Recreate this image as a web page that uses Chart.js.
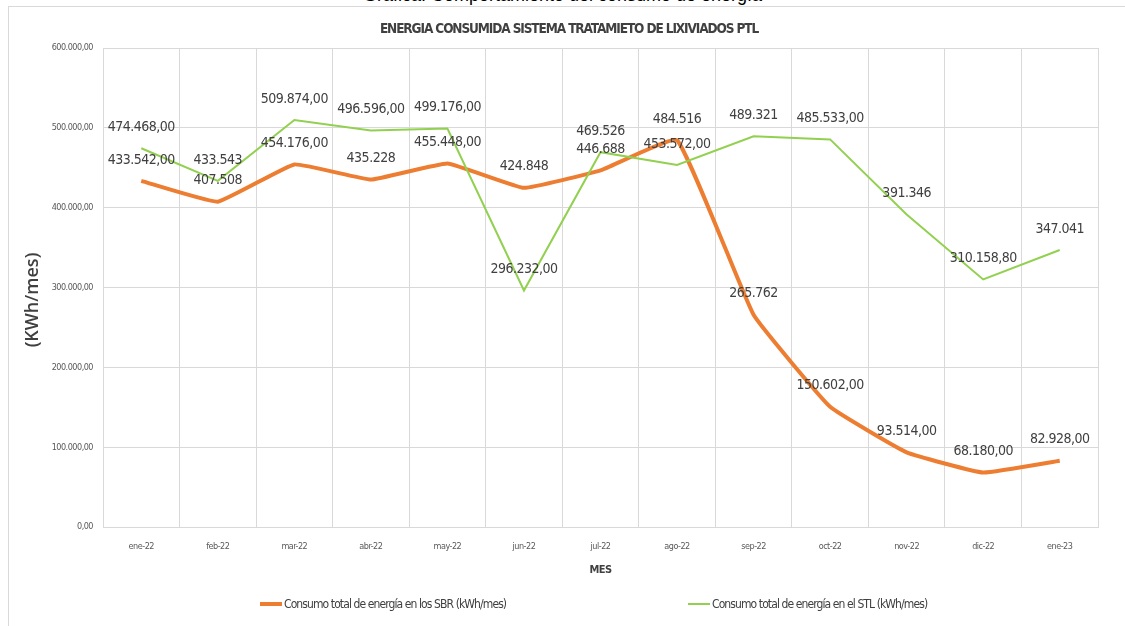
<!DOCTYPE html>
<html>
<head>
<meta charset="utf-8">
<script src="https://cdn.jsdelivr.net/npm/chart.js@4/dist/chart.umd.min.js"></script>
<style>
   body { margin: 0; background: #fff; }
   #wrap { position: relative; width: 1125px; height: 626px; overflow: hidden; }
   #frame { position: absolute; left: 8px; top: 6px; width: 1120px; height: 640px;
            border-top: 1px solid #d9d9d9; border-left: 1px solid #d9d9d9; }
   #topText { position: absolute; top: -15px; left: 0; width: 1125px; text-align: center;
              font: 18px "Liberation Sans", Arial, sans-serif; color: #000; line-height: 20px; }
   #topText span { background: #fff; padding: 0 4px; }
   #chartBox { position: absolute; left: 0; top: 0; width: 1125px; height: 626px; }
   .leg { position: absolute; top: 596px; font: 12px "DejaVu Sans Condensed", sans-serif;
          letter-spacing: -0.9px; color: #404040; white-space: nowrap; line-height: 16px; }
   .leg i { display: inline-block; width: 22px; vertical-align: middle; margin-right: 2px; margin-top: -2px; }
</style>
</head>
<body>
<div id="wrap">
   <div id="frame"></div>
   <div id="chartBox"><canvas id="energyChart"></canvas></div>
   <div id="topText"><span>Gráfica: Comportamiento del consumo de energía</span></div>
   <div class="leg" style="left:260px"><i style="border-top:4px solid #ED7D31"></i>Consumo total de energía en los SBR (kWh/mes)</div>
   <div class="leg" style="left:688px"><i style="border-top:2px solid #92D050"></i>Consumo total de energía en el STL (kWh/mes)</div>
</div>
<script>
// Data
const months = ["ene-22", "feb-22", "mar-22", "abr-22", "may-22", "jun-22", "jul-22",
                "ago-22", "sep-22", "oct-22", "nov-22", "dic-22", "ene-23"];

const sbrValues = [433542, 407508, 454176, 435228, 455448, 424848, 446688,
                   484516, 265762, 150602, 93514, 68180, 82928];
// whether the data label shows ",00" decimals
const sbrDecimals = [true, false, true, false, true, false, false,
                     false, false, true, true, true, true];

const stlValues = [474468, 433543, 509874, 496596, 499176, 296232, 469526,
                   453572, 489321, 485533, 391346, 310158.8, 347041];
const stlDecimals = [true, false, true, true, true, true, false,
                     true, false, true, false, true, false];

const yTicks = [0, 100000, 200000, 300000, 400000, 500000, 600000];

const chartTitle = "ENERGIA CONSUMIDA SISTEMA TRATAMIETO DE LIXIVIADOS PTL";
const yTitle = "(KWh/mes)";

const narrow = "'DejaVu Sans Condensed', sans-serif";
const textColor = "#595959";
const gridColor = "#d9d9d9";

// 433542 -> "433.542" / "433.542,00"
function fmt(v, dec) {
   const neg = v < 0;
   v = Math.abs(v);
   let intPart = Math.floor(v);
   let frac = Math.round((v - intPart) * 100);
   let s = String(intPart).replace(/\B(?=(\d{3})+(?!\d))/g, ".");
   if (dec) s += "," + String(frac).padStart(2, "0");
   return (neg ? "-" : "") + s;
}

// tighter text everywhere, the original uses a narrow font
const tightText = {
   id: "tightText",
   beforeDraw(chart) { chart.ctx.letterSpacing = "-0.5px"; }
};

// Data labels above each point, plus chart and axis titles
const pointLabels = {
   id: "pointLabels",
   afterDatasetsDraw(chart) {
      const ctx = chart.ctx;
      ctx.save();
      ctx.font = "14px " + narrow;
      ctx.fillStyle = "#404040";
      ctx.textAlign = "center";
      ctx.textBaseline = "middle";
      chart.data.datasets.forEach((ds, di) => {
         const meta = chart.getDatasetMeta(di);
         meta.data.forEach((pt, i) => {
            ctx.fillText(fmt(ds.data[i], ds.decimals[i]), pt.x, pt.y - 21);
         });
      });
      ctx.restore();
   },
   afterDraw(chart) {
      const ctx = chart.ctx;
      ctx.save();
      ctx.fillStyle = "#404040";
      ctx.textAlign = "center";
      ctx.textBaseline = "middle";
      ctx.letterSpacing = "-1.1px";
      ctx.font = "bold 13.5px " + narrow;
      ctx.fillText(chartTitle, 569, 29);

      ctx.letterSpacing = "0px";
      ctx.font = "600 18px 'Open Sans', sans-serif";
      ctx.translate(33, 300);
      ctx.rotate(-Math.PI / 2);
      ctx.fillText(yTitle, 0, 0);
      ctx.restore();
   }
};

new Chart(document.getElementById("energyChart"), {
   type: "line",
   data: {
      labels: months,
      datasets: [
         {
            label: "Consumo total de energía en los SBR (kWh/mes)",
            data: sbrValues,
            decimals: sbrDecimals,
            borderColor: "#ED7D31",
            backgroundColor: "#ED7D31",
            borderWidth: 4,
            pointRadius: 0,
            tension: 0.1,
            order: 1
         },
         {
            label: "Consumo total de energía en el STL (kWh/mes)",
            data: stlValues,
            decimals: stlDecimals,
            borderColor: "#92D050",
            backgroundColor: "#92D050",
            borderWidth: 2,
            pointRadius: 0,
            tension: 0,
            order: 0
         }
      ]
   },
   options: {
      responsive: true,
      maintainAspectRatio: false,
      animation: false,
      layout: { padding: { top: 48, left: 0, right: 27, bottom: 49 } },
      plugins: {
         legend: { display: false },
         tooltip: { enabled: false },
         title: { display: false }
      },
      scales: {
         x: {
            offset: true,
            grid: { color: gridColor, offset: true, drawTicks: false },
            border: { color: gridColor },
            ticks: { color: textColor, font: { family: narrow, size: 9 }, padding: 14, maxRotation: 0 },
            title: {
               display: true,
               text: "MES",
               color: "#404040",
               font: { family: narrow, size: 11, weight: "bold" },
               padding: { top: -2, bottom: 0 }
            }
         },
         y: {
            min: 0,
            max: 600000,
            afterBuildTicks: (scale) => { scale.ticks = yTicks.map(v => ({ value: v })); },
            afterFit: (scale) => { scale.width = 103; },
            grid: { color: gridColor, drawTicks: false },
            border: { color: gridColor },
            ticks: {
               color: textColor,
               font: { family: narrow, size: 9 },
               padding: 10,
               callback: (v) => fmt(v, true)
            }
         }
      }
   },
   plugins: [tightText, pointLabels]
});
</script>
</body>
</html>
